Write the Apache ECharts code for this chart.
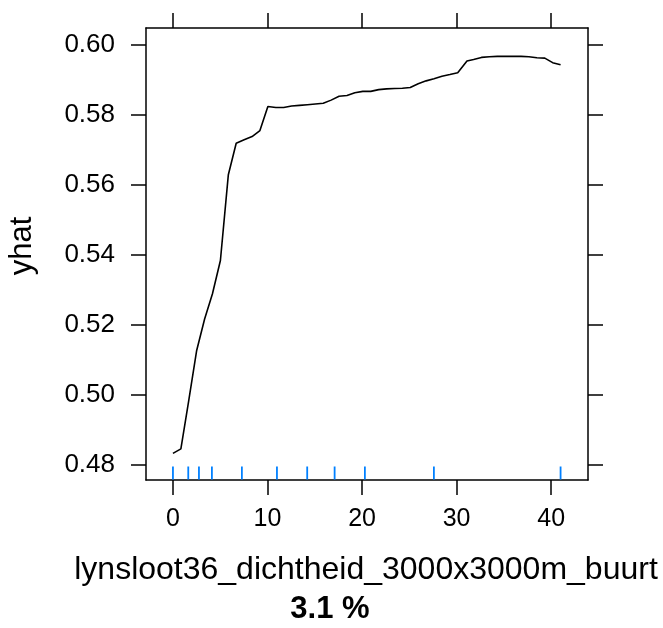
<!DOCTYPE html>
<html>
<head>
<meta charset="utf-8">
<script src="https://cdn.jsdelivr.net/npm/echarts@6/dist/echarts.min.js"></script>
<style>html,body{margin:0;padding:0;background:#fff}#c{width:663px;height:628px}</style>
</head>
<body>
<div id="c"></div>
<script>
const xValues = [0, 0.84, 1.67, 2.51, 3.35, 4.18, 5.02, 5.86, 6.69, 7.53, 8.37, 9.2, 10.04, 10.88, 11.71, 12.55, 13.39, 14.22, 15.06, 15.9, 16.73, 17.57, 18.41, 19.24, 20.08, 20.92, 21.76, 22.59, 23.43, 24.27, 25.1, 25.94, 26.78, 27.61, 28.45, 29.29, 30.12, 31.1, 31.8, 32.63, 33.47, 34.31, 35.14, 35.98, 36.82, 37.65, 38.49, 39.33, 40.16, 41.0];
const yhat = [0.4833, 0.4846, 0.4984, 0.5127, 0.5217, 0.5289, 0.5384, 0.5629, 0.5719, 0.5729, 0.5738, 0.5755, 0.5824, 0.5821, 0.5821, 0.5825, 0.5827, 0.5829, 0.5831, 0.5833, 0.5842, 0.5853, 0.5855, 0.5863, 0.5867, 0.5867, 0.5872, 0.5874, 0.5875, 0.5876, 0.5878, 0.5889, 0.5897, 0.5903, 0.5910, 0.5915, 0.5920, 0.5954, 0.5958, 0.5964, 0.5966, 0.5967, 0.5967, 0.5967, 0.5967, 0.5966, 0.5963, 0.5962, 0.5949, 0.5943];
const rug = [0, 1.62, 2.75, 4.12, 7.29, 11.0, 14.2, 17.1, 20.3, 27.6, 41.0];
const xTicks = [0, 10, 20, 30, 40];
const yTicks = [0.48, 0.50, 0.52, 0.54, 0.56, 0.58, 0.60];
const xLabel = 'lynsloot36_dichtheid_3000x3000m_buurt';
const subLabel = '3.1 %';
const yLabel = 'yhat';

const FONT = '"Liberation Sans", Arial, sans-serif';
const chart = echarts.init(document.getElementById('c'), null, {renderer: 'canvas'});
const lineData = xValues.map((x, i) => [x, yhat[i]]);
const axisCommon = {
  type: 'value',
  splitLine: {show: false},
  axisLine: {show: true, onZero: false, lineStyle: {color: '#000', width: 1.5}},
  axisTick: {show: true, inside: false, length: 15, lineStyle: {color: '#000', width: 1.5}}
};
chart.setOption({
  animation: false,
  backgroundColor: '#fff',
  grid: {left: 146, top: 28, width: 442, height: 452, containLabel: false},
  xAxis: [
    Object.assign({}, axisCommon, {
      position: 'bottom', min: -2.85, max: 43.9,
      axisTick: Object.assign({}, axisCommon.axisTick, {customValues: xTicks}),
      axisLabel: {show: true, customValues: xTicks, margin: 27, fontSize: 25, color: '#000', fontFamily: FONT}
    }),
    Object.assign({}, axisCommon, {
      position: 'top', min: -2.85, max: 43.9,
      axisTick: Object.assign({}, axisCommon.axisTick, {customValues: xTicks}),
      axisLabel: {show: false}
    })
  ],
  yAxis: [
    Object.assign({}, axisCommon, {
      position: 'left', min: 0.4757, max: 0.6048,
      axisTick: Object.assign({}, axisCommon.axisTick, {customValues: yTicks}),
      axisLabel: {show: true, customValues: yTicks, margin: 31, fontSize: 26, color: '#000', fontFamily: FONT,
        formatter: v => Number(v).toFixed(2)}
    }),
    Object.assign({}, axisCommon, {
      position: 'right', min: 0.4757, max: 0.6048,
      axisTick: Object.assign({}, axisCommon.axisTick, {customValues: yTicks}),
      axisLabel: {show: false}
    })
  ],
  series: [
    {
      type: 'line', xAxisIndex: 0, yAxisIndex: 0, data: lineData,
      showSymbol: false, lineStyle: {color: '#000', width: 1.6}, silent: true
    },
    {
      type: 'custom', xAxisIndex: 0, yAxisIndex: 0,
      data: rug.map(v => [v]),
      renderItem: function (params, api) {
        const p = api.coord([api.value(0), 0.4757]);
        return {type: 'line', shape: {x1: p[0], y1: p[1] - 0.5, x2: p[0], y2: p[1] - 13.5},
          style: {stroke: '#0080ff', lineWidth: 1.8}};
      },
      silent: true
    }
  ],
  graphic: [
    {type: 'text', x: 366, y: 586, style: {text: xLabel, font: '32px ' + FONT, fill: '#000', textAlign: 'center', textVerticalAlign: 'bottom'}},
    {type: 'text', x: 330, y: 625, style: {text: subLabel, font: 'bold 31px ' + FONT, fill: '#000', textAlign: 'center', textVerticalAlign: 'bottom'}},
    {type: 'text', x: 22, y: 246, rotation: Math.PI / 2, style: {text: yLabel, font: '31px ' + FONT, fill: '#000', textAlign: 'center', textVerticalAlign: 'middle'}}
  ]
});
</script>
</body>
</html>
